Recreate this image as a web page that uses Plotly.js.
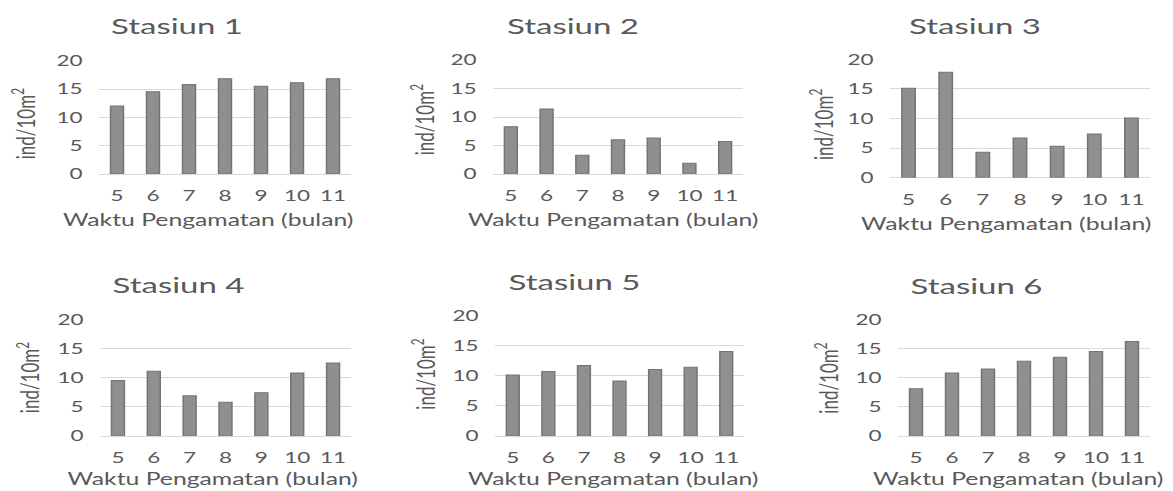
<!DOCTYPE html>
<html>
<head>
<meta charset="utf-8">
<script src="https://cdn.plot.ly/plotly-3.0.1.min.js"></script>
<style>
  html, body { margin: 0; padding: 0; background: #ffffff; overflow: hidden; }
  /* charts are laid out narrow and stretched sideways, giving the wide lettering */
  #chart { width: 782px; height: 491px; transform: scaleX(1.5); transform-origin: 0 0; }
  #chart text { font-variant-numeric: oldstyle-nums; }
</style>
</head>
<body>
<div id="chart"></div>
<script>
// Observation months (x categories)
const months = ['5', '6', '7', '8', '9', '10', '11'];

// Density per station, ind/10m²
const stasiun1 = [12.0, 14.5, 15.8, 16.8, 15.5, 16.1, 16.8];
const stasiun2 = [8.3, 11.4, 3.3, 6.0, 6.3, 1.9, 5.7];
const stasiun3 = [15.1, 17.8, 4.3, 6.7, 5.3, 7.4, 10.1];
const stasiun4 = [9.5, 11.1, 6.9, 5.8, 7.4, 10.8, 12.5];
const stasiun5 = [10.1, 10.7, 11.7, 9.1, 11.0, 11.4, 14.0];
const stasiun6 = [8.1, 10.8, 11.5, 12.8, 13.5, 14.5, 16.2];

const panelTitles = ['Stasiun 1', 'Stasiun 2', 'Stasiun 3', 'Stasiun 4', 'Stasiun 5', 'Stasiun 6'];
const xTitleText = 'Waktu Pengamatan (bulan)';
const yTitleText = 'ind/10m<sup>2</sup>';
const yTicks = [0, 5, 10, 15, 20];

const series = [stasiun1, stasiun2, stasiun3, stasiun4, stasiun5, stasiun6];

// Page geometry (in final, stretched pixels)
const W = 1173, H = 491;
const panels = [
  { x0: 99,  x1: 351,  y0: 60.7,  y1: 174,   title: [177.5, 26],  xt: [209, 220],   yt: [23, 124] },
  { x0: 493, x1: 743,  y0: 60,    y1: 174,   title: [572.5, 25],  xt: [614, 220],   yt: [422, 120] },
  { x0: 890, x1: 1150, y0: 59.3,  y1: 177.7, title: [975, 26],    xt: [1006.7, 224], yt: [822, 125] },
  { x0: 100, x1: 351,  y0: 319.3, y1: 436,   title: [178, 284.3], xt: [213, 479],   yt: [28, 377.5] },
  { x0: 495, x1: 744,  y0: 315.3, y1: 436,   title: [574, 281.7], xt: [613, 479],   yt: [422.5, 374] },
  { x0: 898, x1: 1150, y0: 319.3, y1: 436,   title: [977, 285],   xt: [1018, 479],  yt: [826, 378] }
];

const FONT = 'Lato, "Open Sans", sans-serif';
const TEXT = '#595959';

const px = v => v / W;
const py = v => 1 - v / H;

const data = [];
const annotations = [];
const layout = {
  width: 782,
  height: 491,
  margin: { l: 0, r: 0, t: 0, b: 0 },
  paper_bgcolor: '#ffffff',
  plot_bgcolor: '#ffffff',
  showlegend: false,
  font: { family: FONT, color: TEXT, size: 14 },
  annotations: annotations
};

panels.forEach((p, i) => {
  const n = i + 1;
  const xa = n === 1 ? 'x' : 'x' + n;
  const ya = n === 1 ? 'y' : 'y' + n;

  data.push({
    type: 'bar',
    x: months,
    y: series[i],
    xaxis: xa,
    yaxis: ya,
    width: 0.36,
    marker: { color: '#8f8f8f', line: { color: '#747474', width: 1 } },
    hoverinfo: 'x+y'
  });

  layout[n === 1 ? 'xaxis' : 'xaxis' + n] = {
    domain: [px(p.x0), px(p.x1)],
    anchor: ya,
    type: 'category',
    range: [-0.5, 6.5],
    showgrid: false,
    showline: false,
    zeroline: false,
    ticks: '',
    ticklabelstandoff: 11,
    tickfont: { family: FONT, size: 15, color: TEXT },
    fixedrange: true
  };

  layout[n === 1 ? 'yaxis' : 'yaxis' + n] = {
    domain: [py(p.y1), py(p.y0)],
    anchor: xa,
    range: [0, 20],
    tickvals: yTicks,
    showgrid: true,
    gridcolor: '#d9d9d9',
    gridwidth: 1,
    zeroline: true,
    zerolinecolor: '#d9d9d9',
    zerolinewidth: 1,
    showline: false,
    ticks: '',
    ticklabelstandoff: 10,
    tickfont: { family: FONT, size: 15, color: TEXT },
    fixedrange: true
  };

  annotations.push({
    text: panelTitles[i],
    xref: 'paper', yref: 'paper',
    x: px(p.title[0]), y: py(p.title[1]),
    xanchor: 'center', yanchor: 'middle',
    showarrow: false,
    font: { family: FONT, size: 22, color: TEXT }
  });
  annotations.push({
    text: xTitleText,
    xref: 'paper', yref: 'paper',
    x: px(p.xt[0]), y: py(p.xt[1]),
    xanchor: 'center', yanchor: 'middle',
    showarrow: false,
    font: { family: FONT, size: 16.5, color: TEXT }
  });
  annotations.push({
    text: yTitleText,
    xref: 'paper', yref: 'paper',
    x: px(p.yt[0]), y: py(p.yt[1]),
    xanchor: 'center', yanchor: 'middle',
    textangle: -90,
    showarrow: false,
    font: { family: FONT, size: 17, color: TEXT }
  });
});

Plotly.newPlot('chart', data, layout, { displayModeBar: false, staticPlot: true });
</script>
</body>
</html>
